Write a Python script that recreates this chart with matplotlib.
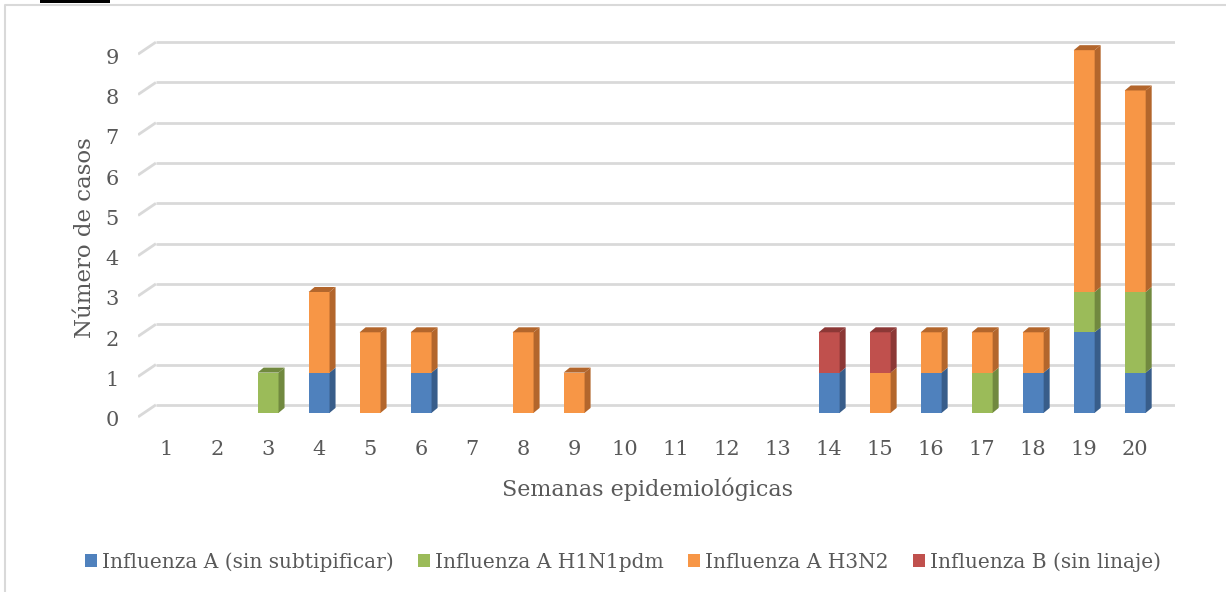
import numpy as np
import matplotlib.pyplot as plt
from matplotlib.patches import Polygon, Patch, Rectangle
from matplotlib.transforms import ScaledTranslation

# ── datos ─────────────────────────────────────────────────────────────────────
semanas = list(range(1, 21))
sin_subtipificar = [0, 0, 0, 1, 0, 1, 0, 0, 0, 0, 0, 0, 0, 1, 0, 1, 0, 1, 2, 1]
h1n1pdm          = [0, 0, 1, 0, 0, 0, 0, 0, 0, 0, 0, 0, 0, 0, 0, 0, 1, 0, 1, 2]
h3n2             = [0, 0, 0, 2, 2, 1, 0, 2, 1, 0, 0, 0, 0, 0, 1, 1, 1, 1, 6, 5]
linaje_b         = [0, 0, 0, 0, 0, 0, 0, 0, 0, 0, 0, 0, 0, 1, 1, 0, 0, 0, 0, 0]

series = [
    ("Influenza A (sin subtipificar)", sin_subtipificar, "#4F81BD", "#385D8A"),
    ("Influenza A H1N1pdm", h1n1pdm, "#9BBB59", "#71893F"),
    ("Influenza A H3N2", h3n2, "#F79646", "#B3662C"),
    ("Influenza B (sin linaje)", linaje_b, "#C0504D", "#8C3836"),
]
yticks = list(range(0, 10))

plt.rcParams["font.family"] = ["DejaVu Serif"]
txt = "#595959"
grid = "#D9D9D9"

fig = plt.figure(figsize=(12.26, 5.92), dpi=100)
ax = fig.add_axes([0.1126, 0.2821, 0.8458, 0.6672])
ax.set_xlim(0.451, 20.78)
ax.set_ylim(-0.3, 9.5)

# profundidad 3D en unidades de datos
ddx, ddy = 0.118, 0.124
gx, gy0, gy1 = 0.35, -0.1, 0.2

# rejilla de fondo con diagonal izquierda
for v in yticks:
    ax.plot([0.451, 0.451 + gx], [v + gy0, v + gy1], color=grid, lw=2, zorder=1,
            solid_capstyle="butt")
    ax.plot([0.451 + gx, 20.78], [v + gy1, v + gy1], color=grid, lw=2, zorder=1,
            solid_capstyle="butt")

w = 0.41
base = np.zeros(len(semanas))
tops = np.array([sum(s[1][i] for s in series) for i in range(len(semanas))])
for name, vals, col, dark in series:
    vals = np.array(vals, dtype=float)
    bars = ax.bar(semanas, vals, w, bottom=base, color=col, zorder=3,
                  label=name)
    for b, v, bt, tot in zip(bars, vals, base, tops):
        if v == 0:
            continue
        xl = b.get_x()
        xr = xl + b.get_width()
        t = bt + v
        ax.add_patch(Polygon([(xr, bt), (xr + ddx, bt + ddy), (xr + ddx, t + ddy), (xr, t)],
                             closed=True, facecolor=dark, edgecolor="none", zorder=3))
        if t == tot:
            ax.add_patch(Polygon([(xl, t), (xl + ddx, t + ddy), (xr + ddx, t + ddy), (xr, t)],
                                 closed=True, facecolor=dark, edgecolor="none", zorder=3))
    base = base + vals

for s in ax.spines.values():
    s.set_visible(False)
ax.set_yticks(yticks)
ax.set_xticks(semanas)
ax.tick_params(axis="y", length=0, pad=14, labelsize=15, labelcolor=txt)
ax.tick_params(axis="x", length=0, pad=11, labelsize=15, labelcolor=txt)
shift = ScaledTranslation(0, -6 / 100, fig.dpi_scale_trans)
for lab in ax.get_yticklabels():
    lab.set_transform(lab.get_transform() + shift)

fig.text(0.069, 0.598, "Número de casos", rotation=90, ha="center", va="center",
         fontsize=16.5, color=txt)
fig.text(0.528, 0.174, "Semanas epidemiológicas", ha="center", va="center",
         fontsize=16, color=txt)

handles = [Patch(facecolor=c, edgecolor="none", label=n) for n, _, c, _ in series]
fig.legend(handles=handles, loc="center", bbox_to_anchor=(0.508, 0.051), ncol=4,
           frameon=False, fontsize=14.5, handlelength=0.6, handleheight=0.6,
           handletextpad=0.25, columnspacing=1.2, labelcolor=txt)

# marco exterior (solo lados izquierdo y superior visibles)
H, W = 592, 1226
fx = lambda p: p / W
fy = lambda p: 1 - p / H
fig.add_artist(plt.Line2D([fx(5), fx(5), fx(1226)],
                          [fy(592), fy(5), fy(5)],
                          transform=fig.transFigure, color=grid, lw=1.5))
fig.patches.append(Rectangle((fx(40), fy(2.5)), 70 / W, 2.5 / H,
                             transform=fig.transFigure, facecolor="black",
                             edgecolor="none"))

fig.savefig("out.png", dpi=100)
